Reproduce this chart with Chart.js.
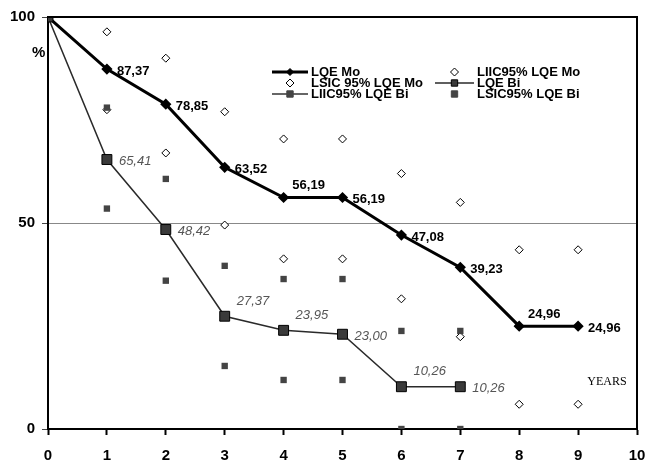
<!DOCTYPE html>
<html>
<head>
<meta charset="utf-8">
<script src="https://cdn.jsdelivr.net/npm/chart.js@4.4.1/dist/chart.umd.min.js"></script>
<style>
  html, body { margin: 0; padding: 0; background: #fff; }
  #wrap { width: 646px; height: 462px; }
</style>
</head>
<body>
<div id="wrap"><canvas id="myChart"></canvas></div>
<script>
// survival (%) by year
const years = [0, 1, 2, 3, 4, 5, 6, 7, 8, 9];
const lqeMo = [100, 87.37, 78.85, 63.52, 56.19, 56.19, 47.08, 39.23, 24.96, 24.96];
const lqeBi = [100, 65.41, 48.42, 27.37, 23.95, 23.00, 10.26, 10.26];
// 95% confidence limits (lower = LIIC, upper = LSIC)
const liicMo = [null, 77.5, 67, 49.5, 41.3, 41.3, 31.6, 22.4, 6, 6];
const lsicMo = [null, 96.4, 90, 77, 70.4, 70.4, 62, 55, 43.5, 43.5];
const liicBi = [null, 53.5, 36, 15.3, 11.9, 11.9, 0, 0];
const lsicBi = [null, 78, 60.7, 39.6, 36.4, 36.4, 23.8, 23.8];
const yTicks = [0, 50, 100];

// where each value label sits: r = right of point, a = above
const moPlace = [null, 'r', 'r', 'r', 'a', 'r', 'r', 'r', 'a', 'r'];
const biPlace = [null, 'r', 'r', 'a', 'a', 'r', 'a', 'r'];

function pts(arr) {
  let out = [];
  for (let i = 0; i < arr.length; i++) {
    if (arr[i] !== null) out.push({ x: years[i], y: arr[i] });
  }
  return out;
}

function fmt(v) {
  return v.toFixed(2).replace('.', ',');
}

// value labels, frame, legend, extra texts
const extras = {
  id: 'extras',
  afterDatasetsDraw(chart) {
    const ctx = chart.ctx;
    const a = chart.chartArea;
    ctx.save();

    // top and right frame
    ctx.strokeStyle = '#000';
    ctx.lineWidth = 2;
    ctx.beginPath();
    ctx.moveTo(a.left, a.top);
    ctx.lineTo(a.right, a.top);
    ctx.lineTo(a.right, a.bottom);
    ctx.stroke();

    // labels on LQE Mo
    let meta = chart.getDatasetMeta(0);
    ctx.font = 'bold 13px "Liberation Sans", Arial, sans-serif';
    ctx.fillStyle = '#000';
    ctx.textBaseline = 'middle';
    for (let i = 1; i < lqeMo.length; i++) {
      const p = meta.data[i];
      if (moPlace[i] === 'a') {
        ctx.textAlign = 'center';
        ctx.fillText(fmt(lqeMo[i]), p.x + 25, p.y - 12);
      } else {
        ctx.textAlign = 'left';
        ctx.fillText(fmt(lqeMo[i]), p.x + 10, p.y + 2);
      }
    }

    // labels on LQE Bi
    meta = chart.getDatasetMeta(1);
    ctx.font = 'italic 13px "Liberation Sans", Arial, sans-serif';
    ctx.fillStyle = '#555';
    ctx.textAlign = 'left';
    for (let i = 1; i < lqeBi.length; i++) {
      const p = meta.data[i];
      if (biPlace[i] === 'a') {
        ctx.fillText(fmt(lqeBi[i]), p.x + 12, p.y - 15);
      } else {
        ctx.fillText(fmt(lqeBi[i]), p.x + 12, p.y + 2);
      }
    }

    // % sign next to y axis
    ctx.font = 'bold 15px "Liberation Sans", Arial, sans-serif';
    ctx.fillStyle = '#000';
    ctx.textAlign = 'left';
    ctx.fillText('%', 32, 53);

    // YEARS tag
    ctx.font = '12px "Liberation Serif", "DejaVu Serif", serif';
    ctx.textAlign = 'center';
    const tw = ctx.measureText('YEARS').width;
    ctx.fillStyle = '#fff';
    ctx.fillRect(607 - tw / 2 - 4, 373, tw + 8, 17);
    ctx.fillStyle = '#000';
    ctx.fillText('YEARS', 607, 382);

    // legend
    const ds = chart.data.datasets;
    const items = [
      { d: 0, x: 272, y: 72, line: true },
      { d: 2, x: 435, y: 72, line: false },
      { d: 3, x: 272, y: 83, line: false },
      { d: 1, x: 435, y: 83, line: true },
      { d: 4, x: 272, y: 94, line: true },
      { d: 5, x: 435, y: 94, line: false }
    ];
    items.forEach(function (it) {
      const s = ds[it.d];
      const textX = it.x < 400 ? 311 : 477;
      const mx = (it.x + textX - 3) / 2;
      if (it.line) {
        ctx.strokeStyle = s.borderColor;
        ctx.lineWidth = s.borderWidth;
        ctx.beginPath();
        ctx.moveTo(it.x, it.y);
        ctx.lineTo(textX - 3, it.y);
        ctx.stroke();
      }
      ctx.fillStyle = s.pointBackgroundColor;
      ctx.strokeStyle = s.pointBorderColor;
      ctx.lineWidth = 1;
      Chart.helpers.drawPoint(ctx, {
        pointStyle: s.pointStyle,
        radius: Math.min(s.pointRadius, 4.5),
        borderWidth: 1
      }, mx, it.y);
      ctx.fillStyle = '#000';
      ctx.textAlign = 'left';
      ctx.textBaseline = 'middle';
      ctx.font = 'bold 13px "Liberation Sans", Arial, sans-serif';
      ctx.fillText(s.label, textX, it.y);
    });

    ctx.restore();
  }
};

const config = {
  type: 'line',
  data: {
    datasets: [
      {
        label: 'LQE Mo',
        data: pts(lqeMo),
        borderColor: '#000',
        borderWidth: 3,
        pointStyle: 'rectRot',
        pointRadius: 3.5,
        pointBackgroundColor: '#000',
        pointBorderColor: '#000',
        order: 1
      },
      {
        label: 'LQE Bi',
        data: pts(lqeBi),
        borderColor: '#2a2a2a',
        borderWidth: 1.5,
        pointStyle: 'rect',
        pointRadius: 7,
        pointBackgroundColor: '#3a3a3a',
        pointBorderColor: '#000',
        pointBorderWidth: 1,
        order: 0
      },
      {
        label: 'LIIC95% LQE Mo',
        data: pts(liicMo),
        showLine: false,
        pointStyle: 'rectRot',
        pointRadius: 4,
        pointBackgroundColor: '#fff',
        pointBorderColor: '#000',
        pointBorderWidth: 1,
        order: 3
      },
      {
        label: 'LSIC 95% LQE Mo',
        data: pts(lsicMo),
        showLine: false,
        pointStyle: 'rectRot',
        pointRadius: 4,
        pointBackgroundColor: '#fff',
        pointBorderColor: '#000',
        pointBorderWidth: 1,
        order: 3
      },
      {
        label: 'LIIC95% LQE Bi',
        data: pts(liicBi),
        showLine: false,
        borderColor: '#333',
        borderWidth: 1.5,
        pointStyle: 'rect',
        pointRadius: 4.5,
        pointBackgroundColor: '#444',
        pointBorderColor: '#444',
        pointBorderWidth: 0,
        order: 2
      },
      {
        label: 'LSIC95% LQE Bi',
        data: pts(lsicBi),
        showLine: false,
        pointStyle: 'rect',
        pointRadius: 4.5,
        pointBackgroundColor: '#444',
        pointBorderColor: '#444',
        pointBorderWidth: 0,
        order: 2
      }
    ]
  },
  options: {
    responsive: true,
    maintainAspectRatio: false,
    animation: false,
    layout: { padding: { top: 17, right: 9, left: 0, bottom: 0 } },
    plugins: {
      legend: { display: false },
      tooltip: { enabled: false }
    },
    scales: {
      x: {
        type: 'linear',
        min: 0,
        max: 10,
        afterFit: function (s) {
          s.height = 33;
          s.paddingLeft = 0;
          s.paddingRight = 0;
        },
        ticks: {
          stepSize: 1,
          color: '#000',
          padding: 12,
          font: { size: 15, weight: 'bold', family: '"Liberation Sans", Arial, sans-serif' }
        },
        grid: { drawOnChartArea: false, tickLength: 6, tickColor: '#000', tickWidth: 2 },
        border: { color: '#000', width: 2 }
      },
      y: {
        min: 0,
        max: 100,
        afterFit: function (s) {
          s.width = 48;
          s.paddingTop = 0;
          s.paddingBottom = 0;
        },
        afterBuildTicks: function (s) { s.ticks = yTicks.map(v => ({ value: v })); },
        ticks: {
          color: '#000',
          padding: 7,
          font: { size: 15, weight: 'bold', family: '"Liberation Sans", Arial, sans-serif' }
        },
        grid: {
          color: c => (c.tick && c.tick.value === 50 ? '#888' : 'rgba(0,0,0,0)'),
          tickColor: '#444',
          tickLength: 6,
          lineWidth: 1
        },
        border: { color: '#000', width: 2 }
      }
    }
  },
  plugins: [extras]
};

const ctx = document.getElementById('myChart').getContext('2d');
let myChart = new Chart(ctx, config);
</script>
</body>
</html>
